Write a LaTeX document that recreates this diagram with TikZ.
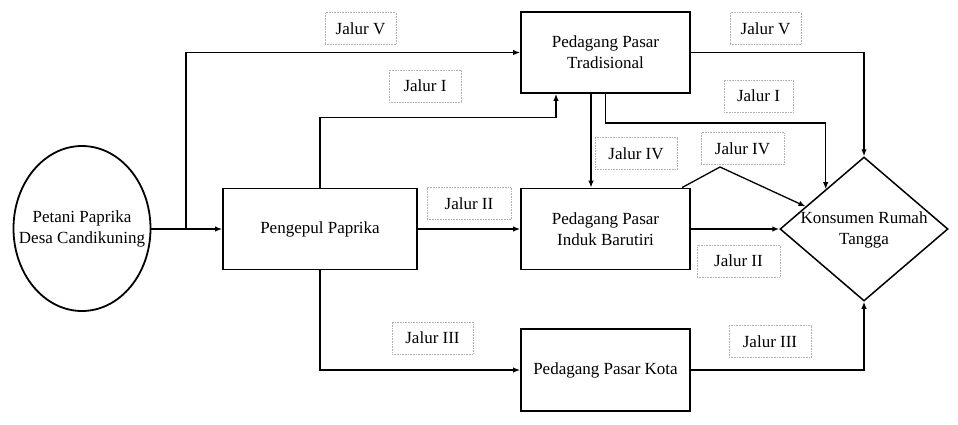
\documentclass[tikz,border=0pt]{standalone}
\usepackage{fontspec}
\setmainfont{Liberation Serif}
\usetikzlibrary{shapes.geometric,arrows.meta,calc}
\begin{document}
\begin{tikzpicture}[x=1pt,y=-1pt,
  font=\fontsize{17}{21}\selectfont,
  box/.style={draw, line width=1.8pt, minimum width=169pt, minimum height=81pt, align=center, inner sep=0pt},
  lbl/.style={draw=gray!60, densely dotted, line width=0.6pt, minimum height=32pt, inner sep=0pt, align=center},
  conn/.style={line width=1.3pt, -{Latex[length=7pt,width=5.5pt]}},
  plain/.style={line width=1.3pt}
]
\useasboundingbox (0,0) rectangle (958,424);
% nodes
\node[draw, ellipse, line width=1.8pt, minimum width=137pt, minimum height=165pt, inner sep=0pt] (pet) at (82,228.5) {};
\node[align=center, inner sep=0pt] (pettext) at (82,229) {Petani Paprika\\Desa Candikuning};
\node[box, minimum width=194pt] (peng) at (320,229) {Pengepul Paprika};
\node[box] (trad) at (605.5,52.5) {Pedagang Pasar\\Tradisional};
\node[box] (ind) at (605.5,229) {Pedagang Pasar\\Induk Barutiri};
\node[box, minimum height=82pt] (kota) at (605.5,370) {Pedagang Pasar Kota};
\node[draw, diamond, line width=1.5pt, minimum width=168pt, minimum height=144pt, inner sep=0pt] (kon) at (864,229) {};
\node[align=center, inner sep=0pt] (kontext) at (864,230) {Konsumen Rumah\\Tangga};
% labels
\node[lbl, minimum width=71pt] (l5a) at (360.5,28.5) {Jalur V};
\node[lbl, minimum width=72pt] (l1a) at (425,86) {Jalur I};
\node[lbl, minimum width=84pt] (l2a) at (469,203.5) {Jalur II};
\node[lbl, minimum width=81pt] (l3a) at (432.5,338) {Jalur III};
\node[lbl, minimum width=71pt] (l5b) at (765.5,28.5) {Jalur V};
\node[lbl, minimum width=69pt] (l1b) at (758.5,96) {Jalur I};
\node[lbl, minimum width=82pt] (l4a) at (636,153.5) {Jalur IV};
\node[lbl, minimum width=83pt] (l4b) at (742.5,148.5) {Jalur IV};
\node[lbl, minimum width=83pt] (l2b) at (738.5,261) {Jalur II};
\node[lbl, minimum width=82pt] (l3b) at (770,341.5) {Jalur III};
% coordinates
\coordinate (j5) at (186,229);
\coordinate (p4) at (720,167);
% connectors
\draw[conn] (pet.east |- peng.west) -- (peng.west);
\draw[conn] (j5) |- (trad.west);
\draw[conn] (peng.north) -- ++(0,-70) -| ([xshift=-49.5pt]trad.south);
\draw[conn] (peng.east) -- (ind.west);
\draw[conn] (peng.south) |- (kota.west);
\draw[conn] (trad.east) -| (kon.north);
\draw[conn] ([xshift=-14.5pt]trad.south) -- ([xshift=-14.5pt]ind.north);
\draw[conn] (trad.south) -- ++(0,29) -| ($(kon.west)!0.548!(kon.north)$);
\draw[conn] ([xshift=76.5pt]ind.north) -- (p4) -- ($(kon.west)!0.31!(kon.north)$);
\draw[conn, line width=1.8pt] (ind.east) -- (kon.west);
\draw[conn] (kota.east) -| (kon.south);
\end{tikzpicture}
\end{document}
